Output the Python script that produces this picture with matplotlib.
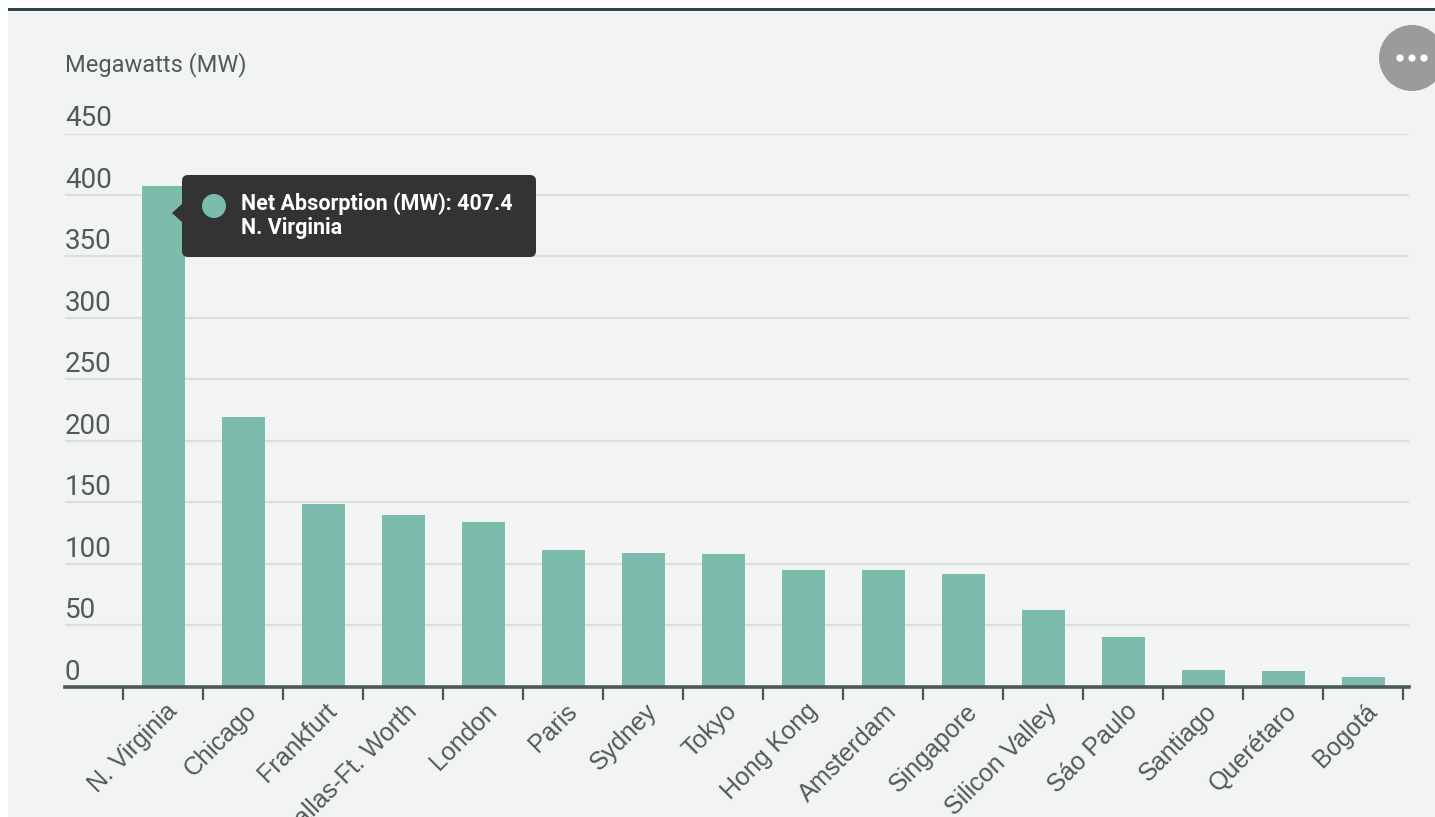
import matplotlib
matplotlib.use("Agg")
import matplotlib.pyplot as plt
import matplotlib.transforms as mtransforms
from matplotlib.patches import FancyBboxPatch, Circle, Polygon, Rectangle
import numpy as np

# Net absorption by market (MW)
markets = ["N. Virginia", "Chicago", "Frankfurt", "Dallas-Ft. Worth", "London", "Paris",
           "Sydney", "Tokyo", "Hong Kong", "Amsterdam", "Singapore", "Silicon Valley",
           "Sáo Paulo", "Santiago", "Querétaro", "Bogotá"]
absorption = [407.4, 219, 149, 140, 134, 111, 108.5, 107.7, 95.2, 94.7, 92, 62.6,
              40.7, 13.6, 13.0, 7.6]
y_ticks = [0, 50, 100, 150, 200, 250, 300, 350, 400, 450]

W, H = 1435, 817
bg = "#f2f4f4"
bar_color = "#7dbbad"
axis_color = "#4b5a5a"
text_color = "#52595a"

fig = plt.figure(figsize=(W / 100, H / 100), dpi=100)
fig.patch.set_facecolor(bg)

left, right, bottom, top = 65, 1409, 686.7, 133.5
ax = fig.add_axes([left / W, (H - bottom) / H, (right - left) / W, (bottom - top) / H])
ax.set_facecolor(bg)

x = np.arange(len(markets))
ax.bar(x, absorption, width=0.54, color=bar_color, zorder=3)

ax.set_xlim(-1.229, 15.57)
ax.set_ylim(0, 450)
ax.set_yticks(y_ticks)
ax.yaxis.grid(True, color="#dcdede", lw=1.6, zorder=0)
ax.tick_params(axis="y", length=0, labelleft=False)
for s in ["top", "right", "left"]:
    ax.spines[s].set_visible(False)
ax.spines["bottom"].set_color(axis_color)
ax.spines["bottom"].set_linewidth(2.6)
ax.spines["bottom"].set_zorder(4)

# y labels sit just above their gridline, left aligned
ylab_tr = mtransforms.offset_copy(ax.get_yaxis_transform(), fig=fig, x=0, y=7, units="dots")
for v in y_ticks:
    ax.text(0, v, str(v), transform=ylab_tr, ha="left", va="baseline",
            fontsize=20, family="Roboto", color=text_color)

# ticks between categories, labels at category centres
ax.set_xticks(np.arange(-0.5, len(markets), 1))
ax.tick_params(axis="x", which="major", length=9, width=1.6, color=axis_color,
               labelbottom=False)
ax.set_xticks(x, minor=True)
ax.set_xticklabels(markets, minor=True, rotation=45, ha="right", va="center",
                   rotation_mode="anchor", fontsize=18, family="Liberation Sans",
                   color=text_color)
ax.tick_params(axis="x", which="minor", length=0, pad=15)
shift = mtransforms.ScaledTranslation(10 / 100, 0, fig.dpi_scale_trans)
for lab in ax.get_xticklabels(minor=True):
    lab.set_transform(lab.get_transform() + shift)

# overlay in pixel coordinates for the frame, title, tooltip and menu button
ov = fig.add_axes([0, 0, 1, 1])
ov.set_xlim(0, W)
ov.set_ylim(H, 0)
ov.axis("off")
ov.patch.set_alpha(0)

ov.add_patch(Rectangle((0, 0), W, 8, color="white", lw=0))
ov.add_patch(Rectangle((0, 0), 8, H, color="white", lw=0))
ov.add_patch(Rectangle((8, 8), W - 8, 3, color="#2c464b", lw=0))

ov.text(65, 65, "Megawatts (MW)", ha="left", va="center", fontsize=17,
        family="Roboto", color=text_color)

# tooltip for the top market
ov.add_patch(Polygon([(172, 213), (183, 203), (183, 223)], closed=True,
                     color="#333333", lw=0))
ov.add_patch(FancyBboxPatch((182, 175), 354, 82, boxstyle="round,pad=0,rounding_size=6",
                            color="#333333", lw=0))
ov.add_patch(Circle((214, 206), 12, color=bar_color, lw=0))
ov.text(241, 204, "Net Absorption (MW): {}".format(absorption[0]), ha="left", va="center",
        fontsize=15.5, fontweight="bold", family="Roboto", color="white")
ov.text(241, 228, markets[0], ha="left", va="center",
        fontsize=15.5, fontweight="bold", family="Roboto", color="white")

# context menu button
ov.add_patch(Circle((1412, 58), 33, color="#9b9b9b", lw=0))
for dx in (-12, 0, 12):
    ov.add_patch(Circle((1412 + dx, 58), 3.6, color="white", lw=0))

fig.savefig("out.png", dpi=100, facecolor=fig.get_facecolor())
